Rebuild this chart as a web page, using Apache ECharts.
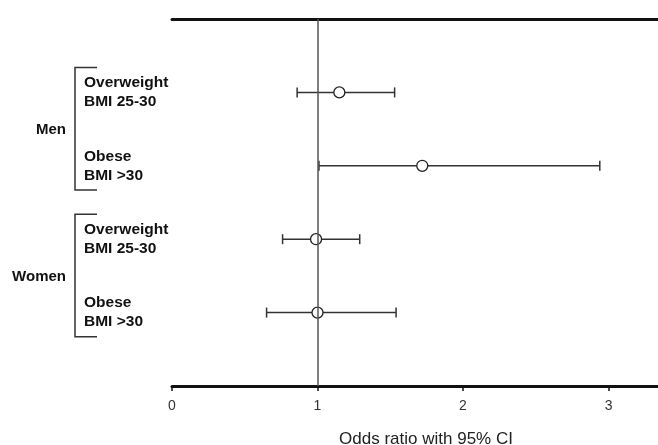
<!DOCTYPE html>
<html>
<head>
<meta charset="utf-8">
<script src="https://cdn.jsdelivr.net/npm/echarts@6/dist/echarts.min.js"></script>
<style>
html,body{margin:0;padding:0;background:#fff;}
#chart{width:658px;height:445px;}
</style>
</head>
<body>
<div id="chart"></div>
<script>
// ---- data ----
const groups = ['Men', 'Women'];
const rowLabels = ['Overweight\nBMI 25-30', 'Obese\nBMI >30', 'Overweight\nBMI 25-30', 'Obese\nBMI >30'];
const rowPositions = [1, 2, 3, 4];
const estimates = [1.15, 1.72, 0.99, 1.00];
const lowers = [0.86, 1.01, 0.76, 0.65];
const uppers = [1.53, 2.94, 1.29, 1.54];
const xTicks = [0, 1, 2, 3];
const xTitle = 'Odds ratio with 95% CI';
const refValue = 1;

const chart = echarts.init(document.getElementById('chart'), null, {renderer: 'canvas'});
const FONT = '"Liberation Sans", Arial, Helvetica, sans-serif';

const ciData = rowPositions.map((r, i) => [lowers[i], uppers[i], r]);
const ptData = rowPositions.map((r, i) => [estimates[i], r]);

const option = {
  animation: false,
  backgroundColor: '#fff',
  grid: {left: 172, right: 0, top: 19, bottom: 59, containLabel: false, outerBoundsMode: 'none'},
  xAxis: [{
    type: 'value', position: 'bottom', min: 0, max: 3.34, interval: 1,
    axisLine: {show: true, onZero: false, lineStyle: {color: '#111', width: 3}},
    axisTick: {show: true, length: 5, lineStyle: {color: '#111', width: 1.5}},
    splitLine: {show: false},
    axisLabel: {
      show: true, margin: 13, showMaxLabel: false,
      color: '#333', fontSize: 14, fontFamily: FONT,
      formatter: v => (xTicks.indexOf(v) >= 0 ? String(v) : '')
    },
    name: xTitle, nameLocation: 'middle', nameGap: 45,
    nameTextStyle: {color: '#222', fontSize: 17, fontFamily: FONT, padding: [0, 0, 0, 22]}
  }, {
    type: 'value', position: 'top', min: 0, max: 3.34, interval: 1,
    axisLine: {show: true, onZero: false, lineStyle: {color: '#111', width: 3}},
    axisTick: {show: false}, axisLabel: {show: false}, splitLine: {show: false}
  }],
  yAxis: {
    type: 'value', min: 0, max: 5, interval: 1, inverse: true,
    axisLine: {show: false}, axisTick: {show: false}, splitLine: {show: false},
    axisLabel: {
      show: true, align: 'left', margin: 88,
      color: '#111', fontSize: 15.5, fontWeight: 'bold', fontFamily: FONT, lineHeight: 19,
      formatter: v => {
        const i = rowPositions.indexOf(v);
        return i >= 0 ? rowLabels[i] : '';
      }
    }
  },
  series: [{
    type: 'line', data: [], silent: true, z: 1,
    markLine: {
      silent: true, symbol: ['none', 'none'], label: {show: false},
      lineStyle: {color: '#555', width: 1.5, type: 'solid'},
      data: [{xAxis: refValue}]
    }
  }, {
    type: 'custom', z: 2, silent: true,
    data: ciData,
    renderItem: function (params, api) {
      const lo = api.coord([api.value(0), api.value(2)]);
      const hi = api.coord([api.value(1), api.value(2)]);
      const h = 5;
      const style = {stroke: '#333', lineWidth: 1.5};
      return {
        type: 'group',
        children: [
          {type: 'line', shape: {x1: lo[0], y1: lo[1], x2: hi[0], y2: hi[1]}, style: style},
          {type: 'line', shape: {x1: lo[0], y1: lo[1] - h, x2: lo[0], y2: lo[1] + h}, style: style},
          {type: 'line', shape: {x1: hi[0], y1: hi[1] - h, x2: hi[0], y2: hi[1] + h}, style: style}
        ]
      };
    }
  }, {
    type: 'scatter', z: 3, silent: true,
    data: ptData,
    symbol: 'circle', symbolSize: 11,
    itemStyle: {color: '#fff', borderColor: '#222', borderWidth: 1.3, opacity: 1}
  }]
};
chart.setOption(option);

// group brackets and labels
function py(v) { return chart.convertToPixel({yAxisIndex: 0}, v); }
const graphics = [];
groups.forEach((g, gi) => {
  const r1 = rowPositions[gi * 2], r2 = rowPositions[gi * 2 + 1];
  const yTop = py(r1 - 0.34), yBot = py(r2 + 0.33), yMid = py((r1 + r2) / 2);
  const st = {stroke: '#333', lineWidth: 1.5, fill: null};
  graphics.push({
    type: 'polyline', silent: true,
    shape: {points: [[97, yTop], [75, yTop], [75, yBot], [97, yBot]]},
    style: st
  });
  graphics.push({
    type: 'text', silent: true, x: 66, y: yMid + 1,
    style: {text: g, align: 'right', verticalAlign: 'middle', fill: '#111',
            font: 'bold 15px ' + FONT}
  });
});
chart.setOption({graphic: graphics});
</script>
</body>
</html>
